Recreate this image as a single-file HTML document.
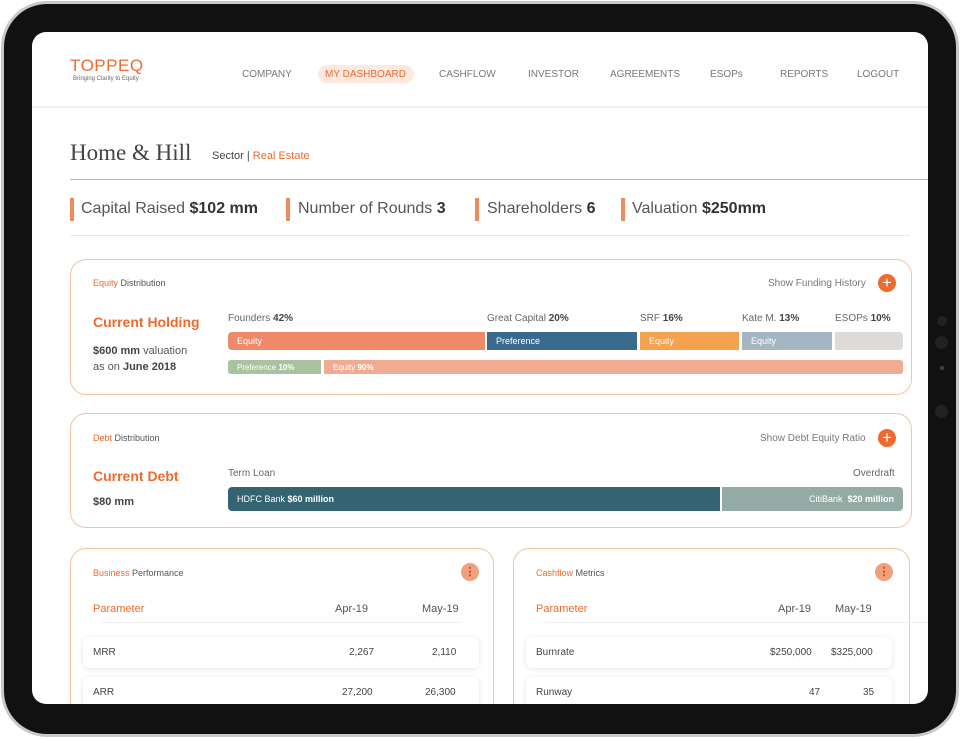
<!DOCTYPE html>
<html><head><meta charset="utf-8"><style>
*{margin:0;padding:0;box-sizing:border-box}
body{width:960px;height:739px;background:#fff;position:relative;overflow:hidden;font-family:"Liberation Sans",sans-serif;color:#555}
.a{position:absolute;white-space:nowrap}
#frame{position:absolute;left:1px;top:1px;width:958px;height:736px;border-radius:46px;background:#111;border:3px solid #c9c9c9}
#screen{position:absolute;left:32px;top:32px;width:896px;height:672px;border-radius:14px;background:#fff;overflow:hidden}
.o{color:#f06a2c}
.card{position:absolute;border:1px solid #f6c2a6;border-radius:16px;background:#fff}
.bar{position:absolute;color:#fff;font-size:9px;padding-left:9px;display:flex;align-items:center}
.plus{position:absolute;width:18px;height:18px;border-radius:50%;background:#f06a2c;color:#fff;font-size:17px;line-height:18px;text-align:center}
.row{position:absolute;background:#fff;border-radius:6px;box-shadow:0 1px 6px rgba(0,0,0,.1);font-size:10px;color:#444}
.dot{position:absolute;width:18px;height:18px;border-radius:50%;background:#f2a07c;color:#c0441a;font-size:11px;line-height:18px;text-align:center;font-weight:bold}
</style></head><body>
<div id="frame"></div>
<div class="a" style="left:937px;top:316px;width:10px;height:10px;border-radius:50%;background:#222"></div>
<div class="a" style="left:935px;top:336px;width:13px;height:13px;border-radius:50%;background:#222"></div>
<div class="a" style="left:940px;top:366px;width:4px;height:4px;border-radius:50%;background:#345"></div>
<div class="a" style="left:935px;top:405px;width:13px;height:13px;border-radius:50%;background:#222"></div>
<div id="screen">
<div class="a o" style="left:38px;top:24px;font-size:17px;letter-spacing:.5px">TOPPEQ</div>
<div class="a" style="left:41px;top:44px;font-size:6px;color:#666">Bringing Clarity to Equity</div>
<div class="a" style="left:210px;top:37px;font-size:10px;color:#777">COMPANY</div>
<div class="a" style="left:286px;top:33px;width:96px;height:18px;border-radius:9px;background:#fde9df"></div>
<div class="a o" style="left:293px;top:37px;font-size:10px">MY DASHBOARD</div>
<div class="a" style="left:407px;top:37px;font-size:10px;color:#777">CASHFLOW</div>
<div class="a" style="left:496px;top:37px;font-size:10px;color:#777">INVESTOR</div>
<div class="a" style="left:578px;top:37px;font-size:10px;color:#777">AGREEMENTS</div>
<div class="a" style="left:678px;top:37px;font-size:10px;color:#777">ESOPs</div>
<div class="a" style="left:748px;top:37px;font-size:10px;color:#777">REPORTS</div>
<div class="a" style="left:825px;top:37px;font-size:10px;color:#777">LOGOUT</div>
<div class="a" style="left:0;top:74px;width:896px;height:2px;background:#eee"></div>
<div class="a" style="left:38px;top:108px;font-size:23px;font-family:'Liberation Serif',serif;color:#444">Home &amp; Hill</div>
<div class="a" style="left:180px;top:118px;font-size:11px;color:#444">Sector | <span class="o">Real Estate</span></div>
<div class="a" style="left:38px;top:147px;width:858px;height:1px;background:#f3a882"></div>
<div class="a" style="left:38px;top:166px;width:4px;height:23px;background:#f08a5a"></div>
<div class="a" style="left:49px;top:168px;font-size:16px;color:#555">Capital Raised <b style="color:#333">$102 mm</b></div>
<div class="a" style="left:254px;top:166px;width:4px;height:23px;background:#f08a5a"></div>
<div class="a" style="left:266px;top:168px;font-size:16px;color:#555">Number of Rounds <b style="color:#333">3</b></div>
<div class="a" style="left:443px;top:166px;width:4px;height:23px;background:#f08a5a"></div>
<div class="a" style="left:455px;top:168px;font-size:16px;color:#555">Shareholders <b style="color:#333">6</b></div>
<div class="a" style="left:589px;top:166px;width:4px;height:23px;background:#f08a5a"></div>
<div class="a" style="left:600px;top:168px;font-size:16px;color:#555">Valuation <b style="color:#333">$250mm</b></div>
<div class="a" style="left:38px;top:203px;width:840px;height:1px;background:#e6e6e6"></div>

<div class="card" style="left:38px;top:227px;width:842px;height:136px"></div>
<div class="a" style="left:61px;top:246px;font-size:9px;color:#555"><span class="o">Equity</span> Distribution</div>
<div class="a" style="left:736px;top:246px;font-size:10px;color:#777">Show Funding History</div>
<div class="plus" style="left:846px;top:242px">+</div>
<div class="a o" style="left:61px;top:282px;font-size:14px;font-weight:bold">Current Holding</div>
<div class="a" style="left:61px;top:311px;font-size:11px;color:#555;line-height:16px"><b style="color:#444">$600 mm</b> valuation<br>as on <b style="color:#444">June 2018</b></div>
<div class="a" style="left:196px;top:281px;font-size:10px;color:#666">Founders <b style="color:#444">42%</b></div>
<div class="a" style="left:455px;top:281px;font-size:10px;color:#666">Great Capital <b style="color:#444">20%</b></div>
<div class="a" style="left:608px;top:281px;font-size:10px;color:#666">SRF <b style="color:#444">16%</b></div>
<div class="a" style="left:710px;top:281px;font-size:10px;color:#666">Kate M. <b style="color:#444">13%</b></div>
<div class="a" style="left:803px;top:281px;font-size:10px;color:#666">ESOPs <b style="color:#444">10%</b></div>
<div class="bar" style="left:196px;top:300px;width:257px;height:18px;background:#ee8a6a;border-radius:4px 0 0 4px">Equity</div>
<div class="bar" style="left:455px;top:300px;width:150px;height:18px;background:#3a6b8e">Preference</div>
<div class="bar" style="left:608px;top:300px;width:99px;height:18px;background:#f4a24e">Equity</div>
<div class="bar" style="left:710px;top:300px;width:90px;height:18px;background:#a4b6c2">Equity</div>
<div class="bar" style="left:803px;top:300px;width:68px;height:18px;background:#dedad8;border-radius:0 4px 4px 0"></div>
<div class="bar" style="left:196px;top:328px;width:93px;height:14px;background:#a9c29f;border-radius:3px 0 0 3px;font-size:8px">Preference&nbsp;<b>10%</b></div>
<div class="bar" style="left:292px;top:328px;width:579px;height:14px;background:#f0ab90;border-radius:0 3px 3px 0;font-size:8px">Equity&nbsp;<b>90%</b></div>

<div class="card" style="left:38px;top:381px;width:842px;height:115px"></div>
<div class="a" style="left:61px;top:401px;font-size:9px;color:#555"><span class="o">Debt</span> Distribution</div>
<div class="a" style="left:728px;top:401px;font-size:10px;color:#777">Show Debt Equity Ratio</div>
<div class="plus" style="left:846px;top:397px">+</div>
<div class="a o" style="left:61px;top:436px;font-size:14px;font-weight:bold">Current Debt</div>
<div class="a" style="left:61px;top:464px;font-size:11px;font-weight:bold;color:#444">$80 mm</div>
<div class="a" style="left:196px;top:436px;font-size:10px;color:#666">Term Loan</div>
<div class="a" style="left:821px;top:436px;font-size:10px;color:#666">Overdraft</div>
<div class="bar" style="left:196px;top:455px;width:492px;height:24px;background:#346472;border-radius:4px 0 0 4px;font-size:9px">HDFC Bank&nbsp;<b>$60 million</b></div>
<div class="bar" style="left:690px;top:455px;width:181px;height:24px;background:#93aba4;border-radius:0 4px 4px 0;font-size:9px;justify-content:flex-end;padding-right:9px">CitiBank&nbsp;&nbsp;<b>$20 million</b></div>

<div class="card" style="left:38px;top:516px;width:424px;height:200px"></div>
<div class="a" style="left:61px;top:536px;font-size:9px;color:#555"><span class="o">Business</span> Performance</div>
<div class="dot" style="left:429px;top:531px">⋮</div>
<div class="a o" style="left:61px;top:571px;font-size:11px">Parameter</div>
<div class="a" style="left:303px;top:571px;font-size:11px;color:#555">Apr-19</div>
<div class="a" style="left:390px;top:571px;font-size:11px;color:#555">May-19</div>
<div class="a" style="left:70px;top:590px;width:358px;height:1px;background:#eee"></div>
<div class="row" style="left:51px;top:605px;width:396px;height:31px"><span class="a" style="left:10px;top:10px">MRR</span><span class="a" style="left:266px;top:10px">2,267</span><span class="a" style="left:349px;top:10px">2,110</span></div>
<div class="row" style="left:51px;top:645px;width:396px;height:31px"><span class="a" style="left:10px;top:10px">ARR</span><span class="a" style="left:259px;top:10px">27,200</span><span class="a" style="left:342px;top:10px">26,300</span></div>

<div class="card" style="left:481px;top:516px;width:397px;height:200px"></div>
<div class="a" style="left:504px;top:536px;font-size:9px;color:#555"><span class="o">Cashflow</span> Metrics</div>
<div class="dot" style="left:843px;top:531px">⋮</div>
<div class="a o" style="left:504px;top:571px;font-size:11px">Parameter</div>
<div class="a" style="left:746px;top:571px;font-size:11px;color:#555">Apr-19</div>
<div class="a" style="left:803px;top:571px;font-size:11px;color:#555">May-19</div>
<div class="a" style="left:513px;top:590px;width:383px;height:1px;background:#eee"></div>
<div class="row" style="left:494px;top:605px;width:366px;height:31px"><span class="a" style="left:10px;top:10px">Burnrate</span><span class="a" style="left:244px;top:10px">$250,000</span><span class="a" style="left:305px;top:10px">$325,000</span></div>
<div class="row" style="left:494px;top:645px;width:366px;height:31px"><span class="a" style="left:10px;top:10px">Runway</span><span class="a" style="left:283px;top:10px">47</span><span class="a" style="left:337px;top:10px">35</span></div>
</div>
</body></html>
